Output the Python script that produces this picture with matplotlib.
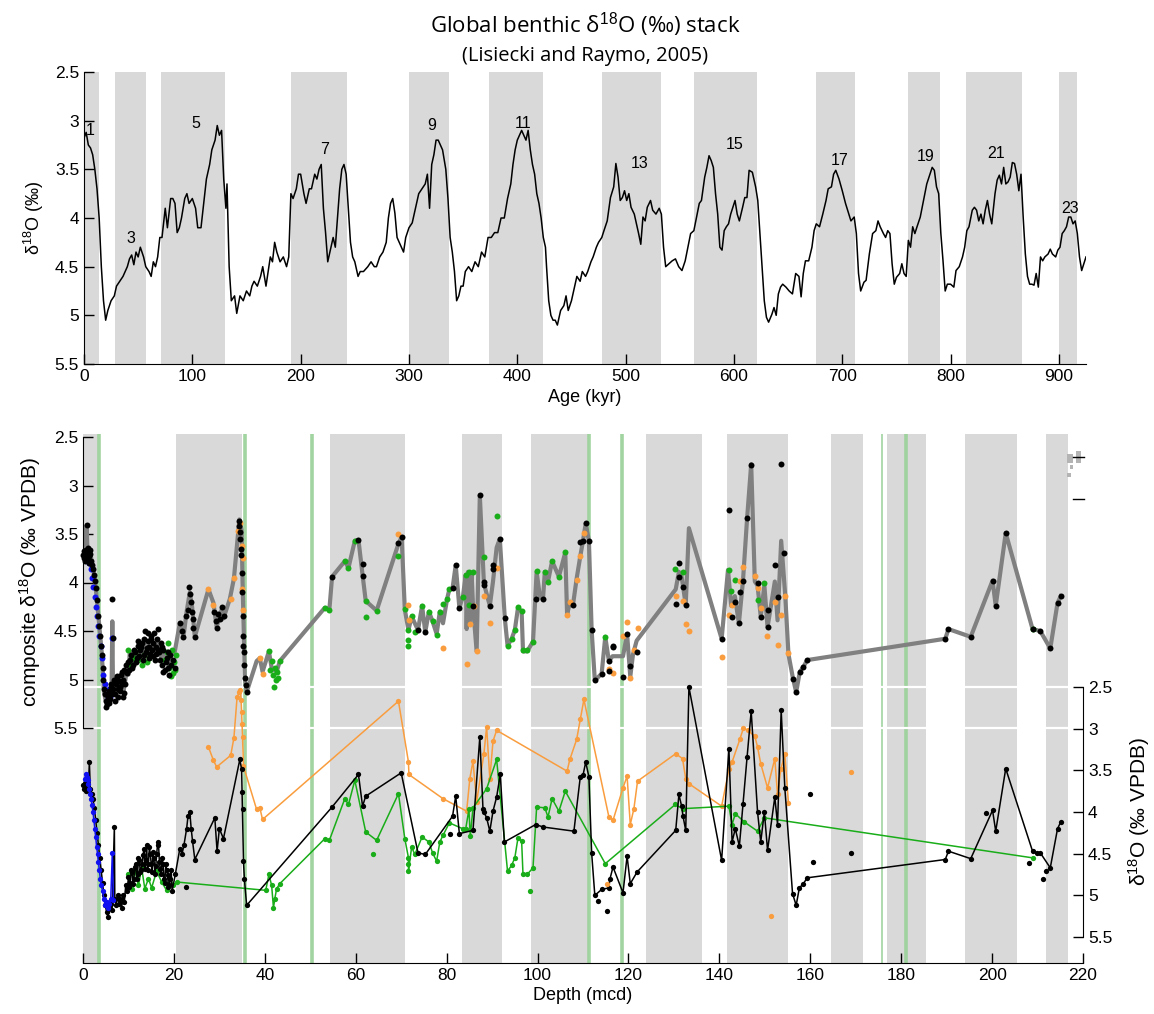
import matplotlib
matplotlib.use("Agg")
import matplotlib.pyplot as plt
from matplotlib.patches import Rectangle
from matplotlib.lines import Line2D

plt.rcParams['font.family'] = ['Liberation Sans', 'DejaVu Sans']
plt.rcParams['mathtext.fontset'] = 'custom'
plt.rcParams['mathtext.rm'] = 'Liberation Sans'
plt.rcParams['mathtext.it'] = 'Liberation Sans:italic'
plt.rcParams['mathtext.bf'] = 'Liberation Sans:bold'

# ---------------- top panel: LR04 stack ----------------
lr_age = [0, 2, 4, 6, 8, 10, 12, 14, 16, 18, 20, 22, 25, 28, 30, 33, 36, 38, 40, 42, 44, 46,
          48, 50, 52, 55, 57, 60, 62, 64, 66, 68, 70, 72, 74, 75, 77, 80, 82, 84, 86, 88, 90,
          93, 95, 97, 100, 103, 105, 108, 110, 113, 116, 118, 121, 123, 125, 127, 129, 131,
          132, 134, 136, 139, 141, 144, 147, 150, 153, 155, 157, 160, 163, 165, 168, 170, 172,
          174, 176, 178, 181, 184, 187, 189, 191, 193, 196, 198, 200, 203, 205, 208, 210, 213,
          215, 217, 219, 221, 223, 225, 228, 230, 232, 234, 236, 238, 240, 242, 244, 246, 248,
          250, 253, 255, 258, 262, 265, 268, 270, 273, 276, 279, 281, 283, 285, 287, 289, 291,
          293, 295, 297, 300, 303, 306, 309, 312, 315, 317, 319, 321, 323, 325, 327, 329, 331,
          334, 336, 338, 340, 342, 344, 346, 348, 350, 352, 355, 358, 361, 364, 367, 370, 373,
          376, 379, 382, 385, 388, 391, 394, 396, 398, 400, 402, 404, 406, 408, 410, 412, 414,
          416, 418, 420, 422, 424, 426, 427, 429, 431, 433, 435, 437, 440, 443, 445, 447, 450,
          453, 455, 458, 460, 463, 465, 468, 470, 473, 475, 478, 480, 483, 486, 489, 491, 493,
          495, 497, 499, 501, 503, 505, 508, 510, 512, 514, 516, 518, 520, 523, 525, 528, 531,
          533, 535, 537, 540, 543, 546, 549, 552, 555, 558, 560, 563, 566, 568, 570, 573, 575,
          577, 579, 581, 583, 585, 587, 589, 591, 593, 595, 597, 599, 601, 603, 605, 608, 610,
          612, 614, 617, 620, 622, 624, 626, 628, 630, 632, 635, 637, 639, 641, 643, 645, 648,
          651, 654, 657, 660, 662, 664, 666, 669, 672, 674, 676, 679, 682, 685, 687, 690, 692,
          694, 697, 700, 703, 706, 708, 711, 713, 715, 717, 720, 722, 725, 728, 731, 733, 735,
          738, 740, 742, 744, 746, 748, 750, 753, 755, 757, 759, 761, 763, 765, 767, 769, 772,
          775, 778, 781, 783, 785, 787, 789, 791, 793, 795, 797, 800, 803, 805, 808, 811, 813,
          815, 817, 820, 822, 824, 826, 828, 830, 832, 834, 836, 838, 841, 843, 845, 847, 849,
          851, 853, 855, 857, 859, 861, 863, 865, 867, 869, 871, 873, 875, 877, 879, 881, 883,
          885, 887, 890, 892, 894, 897, 899, 901, 903, 905, 907, 909, 911, 913, 915, 917, 919,
          921, 923, 925]
lr_d18o = [3.18, 3.12, 3.25, 3.28, 3.35, 3.5, 3.7, 4.0, 4.5, 4.85, 5.05, 4.95, 4.85, 4.8, 4.7,
           4.65, 4.6, 4.55, 4.5, 4.42, 4.38, 4.48, 4.35, 4.4, 4.3, 4.4, 4.5, 4.55, 4.6, 4.45,
           4.5, 4.4, 4.2, 4.2, 4.0, 3.9, 4.1, 3.8, 3.8, 3.85, 4.15, 4.1, 4.0, 3.8, 3.75, 3.85,
           3.8, 3.9, 4.1, 4.1, 3.9, 3.6, 3.45, 3.3, 3.2, 3.05, 3.15, 3.1, 3.6, 3.9, 3.65, 4.5,
           4.85, 4.8, 4.98, 4.8, 4.85, 4.75, 4.8, 4.7, 4.65, 4.7, 4.6, 4.5, 4.7, 4.55, 4.4,
           4.45, 4.25, 4.35, 4.45, 4.4, 4.5, 4.4, 3.75, 3.8, 3.7, 3.55, 3.55, 3.75, 3.85, 3.7,
           3.7, 3.55, 3.6, 3.5, 3.45, 3.9, 4.15, 4.45, 4.3, 4.2, 4.3, 4.0, 3.7, 3.5, 3.45, 3.55,
           3.9, 4.25, 4.4, 4.45, 4.6, 4.55, 4.55, 4.5, 4.45, 4.5, 4.5, 4.4, 4.35, 4.25, 4.0,
           3.85, 3.8, 3.95, 4.2, 4.25, 4.3, 4.35, 4.2, 4.1, 4.05, 3.9, 3.75, 3.7, 3.65, 3.55,
           3.9, 3.45, 3.35, 3.2, 3.2, 3.25, 3.3, 3.5, 3.8, 4.2, 4.35, 4.55, 4.85, 4.8, 4.7, 4.7,
           4.55, 4.5, 4.55, 4.45, 4.5, 4.35, 4.4, 4.2, 4.2, 4.15, 4.15, 4.0, 4.0, 3.8, 3.65,
           3.45, 3.3, 3.2, 3.15, 3.1, 3.15, 3.2, 3.1, 3.3, 3.45, 3.55, 3.75, 3.85, 4.0, 4.2, 4.3,
           4.5, 4.85, 5.0, 5.05, 5.05, 5.1, 4.95, 4.9, 4.8, 4.95, 4.85, 4.7, 4.6, 4.65, 4.55,
           4.6, 4.55, 4.45, 4.4, 4.3, 4.25, 4.2, 4.13, 4.03, 3.79, 3.68, 3.44, 3.58, 3.82, 3.79,
           3.72, 3.82, 3.75, 3.89, 3.96, 4.06, 4.16, 4.27, 3.99, 4.03, 3.89, 3.82, 3.92, 3.96,
           3.9, 3.96, 4.3, 4.5, 4.47, 4.44, 4.42, 4.5, 4.54, 4.44, 4.27, 4.16, 4.13, 3.96, 3.85,
           3.82, 3.58, 3.48, 3.36, 3.41, 3.48, 3.75, 3.96, 4.3, 4.33, 4.13, 4.09, 4.06, 3.96,
           3.89, 3.82, 3.96, 4.03, 3.89, 3.79, 3.79, 3.51, 3.53, 3.68, 3.82, 4.16, 4.5, 4.85,
           5.02, 5.07, 4.99, 4.92, 5.0, 4.78, 4.71, 4.68, 4.71, 4.75, 4.78, 4.57, 4.6, 4.81,
           4.57, 4.44, 4.44, 4.3, 4.13, 4.06, 4.09, 3.96, 3.82, 3.7, 3.68, 3.55, 3.51, 3.6,
           3.72, 3.85, 3.96, 4.03, 3.99, 4.16, 4.57, 4.75, 4.66, 4.64, 4.37, 4.16, 4.13, 4.03,
           4.09, 4.16, 4.2, 4.13, 4.16, 4.47, 4.68, 4.61, 4.57, 4.47, 4.57, 4.6, 4.23, 4.3,
           4.09, 4.16, 4.09, 3.99, 3.82, 3.65, 3.55, 3.48, 3.51, 3.68, 3.75, 4.16, 4.44, 4.75,
           4.68, 4.68, 4.71, 4.54, 4.5, 4.4, 4.3, 4.13, 4.09, 3.92, 3.89, 3.92, 4.03, 3.96,
           4.06, 3.92, 3.82, 3.96, 4.06, 3.75, 3.61, 3.56, 3.65, 3.48, 3.65, 3.63, 3.58, 3.43,
           3.44, 3.55, 3.72, 3.55, 3.99, 4.37, 4.6, 4.68, 4.68, 4.69, 4.57, 4.71, 4.4, 4.44,
           4.4, 4.37, 4.32, 4.37, 4.4, 4.33, 4.3, 4.16, 4.13, 4.09, 3.99, 3.99, 4.06, 4.03,
           4.16, 4.4, 4.54, 4.47, 4.4]

mis_bands = [(0, 14), (29, 57), (71, 130), (191, 243), (300, 337), (374, 424), (478, 533),
             (563, 621), (676, 712), (761, 790), (814, 866), (900, 917)]
mis_names = ['1', '3', '5', '7', '9', '11', '13', '15', '17', '19', '21', '23']
mis_age = [6, 43, 103, 222, 321, 405, 513, 601, 698, 777, 842, 910]
mis_val = [3.1, 4.21, 3.03, 3.3, 3.05, 3.03, 3.44, 3.24, 3.41, 3.37, 3.34, 3.9]

# ---------------- bottom panel ----------------
depth_bands = [(0, 3.3), (20.5, 35.0), (54.3, 70.8), (83.4, 92.2), (98.6, 111.3),
               (123.9, 136.2), (141.7, 155.1), (164.6, 171.6), (176.9, 185.4),
               (194.1, 205.5), (211.9, 216.7)]
green_lines = [3.6, 35.6, 50.4, 111.3, 118.6, 175.8, 181.1]

# composite record (grey line, left axis)
comp_depth = [0.1, 0.4, 0.8, 1.0, 1.5, 2.0, 2.6, 3.0, 3.4, 3.8, 4.1, 4.4, 4.6, 5.0, 5.4, 5.9,
              6.3, 6.45, 6.6, 7.0, 7.4, 7.8, 8.3, 8.9, 9.6, 10.0, 10.3, 10.7, 11.1, 11.5, 12.0,
              12.5, 13.0, 13.5, 14.0, 14.5, 15.0, 15.5, 16.0, 16.5, 16.9, 17.4, 17.9, 18.4,
              18.9, 19.4, 20.2, 21.3, 22.1, 22.8, 23.5, 24.0, 24.6, 27.6, 28.7, 29.4, 30.5,
              30.9, 32.3, 33.2, 34.4, 34.9, 35.1, 35.4, 35.6, 36.0, 38.2, 38.9, 39.5, 40.9,
              41.5, 42.6, 43.3, 53.2, 54.2, 54.8, 57.6, 58.4, 59.8, 60.6, 61.5, 62.2, 64.6,
              69.4, 70.1, 70.8, 71.6, 72.3, 73.7, 74.6, 75.3, 76.1, 76.9, 77.8, 78.5, 79.2,
              80.1, 80.6, 81.3, 82.0, 82.8, 83.6, 84.2, 84.4, 84.7, 85.0, 85.5, 85.8, 86.6,
              87.3, 88.2, 89.5, 90.2, 91.0, 91.7, 92.8, 93.4, 94.3, 95.0, 95.7, 96.5, 96.8,
              97.7, 99.0, 99.8, 100.5, 101.2, 101.6, 102.3, 103.2, 104.7, 106.1, 106.5, 107.1,
              107.8, 108.6, 109.4, 110.0, 110.6, 111.3, 111.9, 112.6, 114.1, 114.9, 115.7,
              116.5, 118.8, 119.7, 120.4, 121.0, 121.8, 130.4, 131.1, 131.7, 132.6, 133.3,
              140.5, 141.9, 142.6, 143.4, 144.3, 145.2, 146.1, 147.0, 147.8, 148.4, 149.1,
              149.9, 150.6, 152.2, 152.8, 153.6, 154.5, 155.2, 156.2, 156.9, 157.7, 158.5,
              159.3, 189.7, 190.4, 195.3, 200.1, 200.8, 203.0, 208.9, 210.6, 212.8, 214.4,
              215.1]
comp_d18o = [3.72, 3.68, 3.41, 3.70, 3.67, 3.80, 3.96, 4.15, 4.35, 4.55, 4.71, 4.95, 5.13,
             5.22, 5.18, 5.13, 5.05, 4.40, 5.10, 5.05, 5.12, 4.99, 5.08, 5.13, 4.92, 4.95,
             4.71, 4.80, 4.85, 4.75, 4.78, 4.67, 4.72, 4.62, 4.74, 4.65, 4.72, 4.64, 4.70,
             4.62, 4.74, 4.80, 4.72, 4.78, 4.85, 4.75, 4.71, 4.42, 4.56, 4.30, 4.10, 4.25,
             4.56, 4.07, 4.21, 4.46, 4.28, 4.37, 4.17, 3.96, 3.35, 3.46, 3.99, 4.56, 4.99,
             5.13, 4.81, 4.78, 4.92, 4.71, 4.88, 4.92, 4.81, 4.26, 4.28, 3.94, 3.78, 3.85,
             3.57, 3.56, 3.92, 4.19, 4.29, 3.60, 3.53, 4.28, 4.49, 4.35, 4.49, 4.24, 4.51,
             4.30, 4.40, 4.53, 4.30, 4.42, 4.17, 4.07, 4.06, 3.82, 4.26, 4.14, 3.92, 4.48,
             3.89, 4.42, 3.92, 4.24, 4.71, 3.10, 4.01, 4.24, 3.99, 3.64, 3.55, 4.37, 4.65,
             4.58, 4.49, 4.26, 4.30, 4.71, 4.71, 4.61, 3.89, 4.14, 4.17, 3.89, 3.99, 3.78,
             3.94, 3.69, 4.33, 4.21, 4.23, 3.96, 3.73, 3.57, 3.39, 3.57, 4.49, 5.01, 4.94,
             4.56, 4.81, 4.76, 4.76, 4.53, 4.97, 4.74, 4.60, 4.07, 3.89, 3.94, 4.23, 3.44,
             4.58, 3.87, 4.24, 4.14, 4.42, 3.98, 3.34, 2.78, 3.99, 4.03, 4.35, 4.03, 4.46,
             3.99, 4.39, 3.57, 4.14, 4.74, 4.99, 5.13, 4.92, 4.87, 4.80, 4.58, 4.48, 4.56,
             3.98, 4.24, 3.49, 4.48, 4.50, 4.68, 4.21, 4.14]

# dots on the composite (left axis), by source
up_blk_depth = [0.1, 0.2, 0.3, 0.4, 0.5, 0.6, 0.7, 0.8, 0.9, 1.0, 1.1, 1.2, 1.3, 1.4, 1.5, 1.6,
                1.8, 2.0, 2.2, 2.4, 2.6, 2.8, 3.0, 3.3, 3.5, 3.7, 3.9, 4.1, 4.3, 4.5, 4.7,
                4.9, 5.1, 5.3, 5.5, 5.7, 5.9, 6.1, 6.3, 6.45, 6.5, 6.7, 6.9, 7.1, 7.3, 7.5,
                7.7, 7.9, 8.1, 8.3, 8.5, 8.7, 8.9, 9.1, 9.3, 9.5, 9.7, 9.9, 10.2, 10.6, 11.0,
                11.4, 11.8, 12.2, 12.6, 13.0, 13.4, 13.7, 14.0, 14.3, 14.6, 14.9, 15.2, 15.5,
                15.8, 16.1, 16.5, 16.8, 17.1, 17.4, 17.7, 18.0, 18.4, 18.8, 19.2, 21.3, 21.8,
                22.1, 22.6, 23.0, 23.3, 23.5, 23.7, 23.9, 24.1, 24.3, 24.6, 28.9, 29.2, 29.5,
                29.8, 30.2, 30.6, 31.0, 34.3, 34.4, 34.5, 34.6, 34.7, 34.8, 34.9, 35.0, 35.1,
                35.2, 35.3, 35.4, 35.5, 35.6, 35.8, 36.0, 54.8, 60.6, 61.5, 61.5, 69.4, 70.1,
                73.7, 75.3, 81.3, 82.0, 82.8, 85.8, 87.3, 88.2, 88.2, 89.5, 90.2, 90.2, 91.7,
                92.8, 99.6, 101.2, 107.8, 109.4, 110.0, 110.6, 111.3, 111.9, 112.6, 114.1,
                115.7, 115.7, 116.6, 116.6, 118.8, 119.7, 120.4, 121.9, 130.4, 131.1, 131.1,
                131.9, 132.6, 140.5, 142.1, 142.8, 143.5, 144.3, 144.5, 145.2, 146.1, 147.0,
                148.4, 149.1, 150.6, 150.6, 152.2, 152.8, 153.6, 154.3, 156.2, 156.9, 157.7,
                158.5, 159.3, 189.7, 190.4, 195.3, 200.1, 200.8, 203.0, 208.9, 210.6, 212.8,
                214.4, 215.1,
                10.4, 10.8, 11.2, 11.6, 12.0, 12.4, 12.8, 13.2, 13.5, 13.9, 14.2, 14.5, 14.8,
                15.0, 15.4, 15.7, 16.0, 16.3, 16.6, 17.0, 17.3, 17.6, 18.2, 18.6, 19.0, 19.4,
                19.8, 20.2, 5.0, 5.4, 5.8, 6.2, 7.0, 7.4, 7.8, 8.2, 8.6, 9.0]
up_blk_d18o = [3.72, 3.68, 3.75, 3.70, 3.78, 3.66, 3.72, 3.41, 3.70, 3.64, 3.76, 3.69, 3.73,
               3.80, 3.67, 3.71, 3.78, 3.82, 3.86, 3.92, 3.98, 4.06, 4.18, 4.35, 4.45, 4.55,
               4.65, 4.75, 4.88, 5.00, 5.10, 5.15, 5.22, 5.25, 5.18, 5.12, 5.20, 5.08, 5.15,
               4.17, 4.57, 5.10, 5.00, 5.15, 5.05, 4.98, 5.10, 5.02, 5.12, 4.95, 5.05, 5.18,
               5.00, 4.90, 5.05, 4.85, 4.93, 4.82, 4.90, 4.75, 4.85, 4.72, 4.78, 4.65, 4.70,
               4.62, 4.75, 4.50, 4.68, 4.60, 4.78, 4.55, 4.70, 4.62, 4.80, 4.66, 4.48, 4.72,
               4.62, 4.85, 4.70, 4.90, 4.78, 4.88, 4.75, 4.42, 4.50, 4.56, 4.35, 4.28, 4.05,
               4.12, 4.20, 4.30, 4.38, 4.47, 4.56, 4.30, 4.40, 4.47, 4.32, 4.38, 4.25, 4.35,
               3.37, 3.42, 3.48, 3.55, 3.65, 3.72, 3.90, 4.10, 4.35, 4.55, 4.65, 4.72, 4.85,
               4.98, 5.06, 5.13, 3.94, 3.56, 3.81, 3.93, 3.59, 3.53, 4.49, 4.51, 4.06, 3.82,
               4.26, 4.24, 3.10, 3.99, 4.03, 4.24, 3.82, 3.86, 3.55, 4.37, 4.17, 4.17, 4.23,
               3.58, 3.57, 3.39, 3.57, 4.49, 5.01, 4.94, 4.81, 4.91, 4.65, 4.66, 4.97, 4.53,
               4.86, 4.72, 4.22, 3.80, 3.94, 4.05, 4.23, 4.58, 3.25, 4.36, 4.20, 4.42, 4.10,
               3.98, 3.34, 2.79, 4.00, 4.36, 4.28, 4.46, 3.82, 4.15, 2.78, 3.70, 4.99, 5.13,
               4.92, 4.87, 4.80, 4.58, 4.48, 4.56, 3.98, 4.24, 3.49, 4.48, 4.50, 4.68, 4.21,
               4.14,
               4.80, 4.88, 4.70, 4.82, 4.60, 4.76, 4.66, 4.80, 4.58, 4.72, 4.52, 4.66, 4.74,
               4.58, 4.76, 4.52, 4.74, 4.58, 4.70, 4.80, 4.66, 4.92, 4.82, 4.72, 4.95, 4.85,
               4.80, 4.88, 5.28, 5.15, 5.24, 5.05, 5.22, 4.96, 5.18, 5.08, 4.92, 5.14]
up_org_depth = [27.6, 28.7, 32.5, 33.2, 34.0, 34.5, 35.0, 35.1, 35.0, 35.3, 38.9, 39.5, 69.4,
                71.6, 71.7, 79.2, 84.4, 85.1, 86.0, 86.7, 88.2, 89.5, 91.0, 106.4, 107.1,
                108.6, 109.4, 110.2, 115.7, 116.6, 118.8, 119.7, 120.4, 121.2, 122.0, 130.4,
                131.9, 132.6, 133.3, 140.5, 142.1, 142.8, 144.5, 145.2, 147.8, 148.4, 149.1,
                150.5, 152.2, 152.8, 153.5, 154.4, 155.2]
up_org_d18o = [4.07, 4.23, 4.17, 3.95, 3.47, 3.39, 3.62, 3.75, 4.07, 4.28, 4.78, 4.94, 3.50,
               4.23, 4.39, 4.68, 4.84, 4.43, 4.24, 4.71, 4.14, 4.42, 3.85, 4.34, 4.20, 3.97,
               3.73, 3.49, 4.89, 4.93, 4.55, 4.41, 4.98, 4.70, 4.47, 4.14, 4.19, 4.43, 4.50,
               4.77, 4.33, 4.23, 3.98, 3.84, 3.93, 4.06, 4.26, 4.55, 4.20, 4.64, 4.34, 4.14,
               4.73]
up_grn_depth = [10.0, 10.5, 11.0, 11.5, 12.0, 12.5, 13.0, 13.5, 14.0, 14.5, 18.0, 18.5, 19.0,
                19.5, 19.7, 20.0, 20.2, 20.5, 40.9, 41.5, 41.8, 42.0, 42.2, 42.4, 42.6, 43.3,
                53.2, 54.2, 57.6, 58.4, 59.8, 62.2, 62.2, 64.6, 69.4, 70.8, 71.6, 71.6, 71.6,
                72.3, 73.0, 74.6, 76.1, 76.9, 77.8, 78.5, 79.2, 80.1, 80.6, 83.5, 84.2, 84.9,
                85.0, 85.8, 88.2, 91.0, 93.4, 94.3, 95.0, 95.7, 96.5, 96.8, 97.7, 99.0, 99.8,
                101.6, 102.3, 103.2, 104.7, 106.1, 114.9, 130.3, 131.9, 142.1, 142.6, 143.5,
                148.4, 149.9, 208.9, 18.8, 19.3, 41.2, 42.8]
up_grn_d18o = [4.70, 4.85, 4.78, 4.72, 4.80, 4.68, 4.85, 4.75, 4.82, 4.78, 4.80, 4.72, 4.88,
               4.70, 4.93, 4.82, 4.90, 4.75, 4.71, 4.81, 4.95, 5.08, 4.88, 5.00, 4.92, 4.81,
               4.26, 4.28, 3.78, 3.85, 3.57, 4.19, 4.36, 4.29, 3.73, 4.27, 4.49, 4.59, 4.65,
               4.35, 4.51, 4.24, 4.30, 4.40, 4.54, 4.30, 4.22, 4.17, 4.07, 4.15, 3.92, 3.89,
               4.23, 3.89, 3.74, 3.31, 4.65, 4.58, 4.49, 4.25, 4.29, 4.70, 4.70, 4.61, 3.88,
               3.89, 3.99, 3.78, 3.94, 3.69, 4.56, 3.86, 3.89, 3.87, 4.09, 3.97, 4.18, 4.01,
               4.48, 4.62, 4.96, 4.90, 4.98]
up_blu_depth = [1.4, 1.7, 2.0, 2.3, 2.6, 2.9, 3.1, 3.4, 3.6, 3.9, 4.2, 4.5, 4.8, 5.1, 5.4,
                5.7, 6.0, 6.45]
up_blu_d18o = [3.80, 3.86, 3.95, 4.05, 4.15, 4.25, 4.35, 4.45, 4.55, 4.65, 4.78, 4.95, 5.05,
               5.15, 5.20, 5.10, 5.18, 4.57]

# individual records (right axis)
lo_blk_depth = [0.1, 0.3, 0.5, 0.7, 0.9, 1.2, 1.4, 1.6, 1.9, 2.2, 2.5, 2.8, 3.1, 3.4, 3.7,
                4.0, 4.3, 4.6, 4.9, 5.2, 5.5, 5.8, 6.1, 6.4, 6.9, 7.0, 7.3, 7.6, 7.9, 8.2,
                8.5, 8.8, 9.1, 9.4, 9.7, 10.0, 10.4, 10.8, 11.2, 11.6, 12.0, 12.4, 12.8, 13.2,
                13.6, 14.0, 14.4, 14.8, 15.2, 15.6, 16.0, 16.4, 16.8, 17.2, 17.6, 18.0, 18.4,
                18.8, 19.2, 19.6, 20.3, 21.3, 21.8, 22.2, 22.8, 23.1, 23.5, 23.8, 24.1, 24.6,
                29.0, 29.5, 30.0, 30.9, 34.5, 34.9, 35.0, 35.1, 35.3, 35.5, 36.0, 54.8, 60.6,
                61.5, 62.2, 70.0, 73.7, 75.3, 81.3, 82.0, 82.8, 85.8, 87.3, 88.0, 88.2, 88.8,
                89.5, 90.2, 91.0, 91.8, 92.7, 99.6, 101.2, 108.0, 109.4, 110.0, 110.6, 111.3,
                111.9, 112.6, 114.1, 115.7, 115.9, 116.6, 118.8, 119.7, 120.4, 121.9, 130.4,
                131.1, 131.7, 132.0, 132.6, 133.3, 140.5, 142.1, 142.8, 143.5, 144.4, 145.2,
                146.1, 147.0, 148.4, 149.1, 149.9, 150.6, 152.2, 152.8, 153.6, 154.4, 156.1,
                156.9, 157.6, 158.5, 159.3, 189.7, 190.4, 195.3, 200.1, 200.8, 203.0, 208.9,
                209.9, 210.6, 212.8, 214.4, 215.1,
                10.2, 10.6, 11.0, 11.4, 11.8, 12.2, 12.6, 13.0, 13.4, 13.8, 14.2, 14.6, 15.0,
                15.4, 15.8, 16.2, 16.6, 17.0, 17.4, 17.8, 18.2, 18.6, 19.0, 19.4]
lo_blk_d18o = [3.68, 3.72, 3.65, 3.75, 3.62, 3.70, 3.40, 3.72, 3.78, 3.85, 3.95, 4.10, 4.25,
               4.40, 4.55, 4.70, 4.85, 5.00, 5.12, 5.20, 5.26, 5.15, 5.10, 5.18, 4.18, 5.05,
               5.12, 5.00, 5.10, 5.05, 5.15, 5.00, 5.08, 4.88, 4.95, 4.78, 4.85, 4.72, 4.80,
               4.62, 4.75, 4.58, 4.70, 4.52, 4.68, 4.40, 4.62, 4.50, 4.72, 4.55, 4.65, 4.40,
               4.60, 4.75, 4.62, 4.85, 4.70, 4.90, 4.80, 4.95, 4.75, 4.44, 4.50, 4.40, 4.20,
               4.05, 4.00, 4.20, 4.35, 4.57, 4.07, 4.47, 4.20, 4.32, 3.37, 3.49, 3.76, 3.97,
               4.59, 4.80, 5.12, 3.94, 3.55, 3.93, 3.81, 3.53, 4.49, 4.51, 4.05, 3.81, 4.26,
               4.22, 3.10, 3.97, 4.00, 4.07, 4.23, 3.99, 3.82, 3.55, 4.36, 4.15, 4.18, 4.23,
               3.58, 3.56, 3.40, 3.58, 4.49, 5.00, 4.93, 4.91, 4.81, 4.66, 4.97, 4.53, 4.86,
               4.72, 4.22, 3.79, 3.93, 4.05, 4.22, 2.50, 4.58, 3.24, 4.36, 4.20, 4.41, 3.90,
               3.34, 2.79, 4.00, 4.36, 4.00, 4.46, 3.82, 4.15, 2.78, 3.71, 4.98, 5.12, 4.91,
               4.86, 4.79, 4.57, 4.47, 4.56, 3.98, 4.23, 3.48, 4.47, 4.49, 4.49, 4.67, 4.20,
               4.12,
               4.90, 4.70, 4.86, 4.66, 4.80, 4.55, 4.72, 4.62, 4.45, 4.58, 4.70, 4.42, 4.62,
               4.48, 4.74, 4.50, 4.36, 4.68, 4.55, 4.80, 4.62, 4.76, 4.88, 4.70]
lo_blk_pt_depth = [22.6, 80.7, 113.3, 115.2, 159.9, 160.7, 168.9, 198.6, 208.1, 211.2, 211.9]
lo_blk_pt_d18o = [4.90, 4.27, 5.07, 5.19, 3.78, 4.60, 4.49, 4.01, 4.61, 4.81, 4.71]

lo_org_depth = [27.6, 28.7, 29.4, 32.5, 33.2, 33.9, 34.4, 34.6, 34.8, 34.9, 35.0, 35.1, 35.3,
                38.2, 38.9, 39.5, 69.4, 71.6, 71.7, 79.2, 84.4, 85.1, 85.8, 86.6, 88.2, 88.8,
                89.5, 90.2, 91.0, 106.5, 107.1, 108.6, 109.4, 110.2, 115.7, 116.6, 118.8,
                119.7, 120.4, 121.2, 122.0, 130.4, 131.9, 132.6, 133.3, 140.5, 142.1, 142.8,
                144.5, 145.3, 146.2, 147.8, 148.4, 149.1, 150.6, 152.2, 152.8, 153.5, 154.4,
                155.2]
lo_org_d18o = [3.22, 3.38, 3.46, 3.32, 3.11, 2.62, 2.56, 2.54, 2.66, 2.80, 2.95, 3.10, 3.45,
               3.97, 3.95, 4.09, 2.67, 3.40, 3.55, 3.84, 3.99, 3.60, 3.39, 3.88, 3.30, 2.98,
               3.60, 3.15, 3.02, 3.51, 3.37, 3.13, 2.89, 2.65, 4.06, 4.10, 3.71, 3.57, 4.15,
               3.96, 3.63, 3.30, 3.36, 3.60, 3.66, 3.93, 3.49, 3.40, 3.13, 2.99, 3.02, 3.09,
               3.22, 3.42, 3.71, 3.36, 3.79, 3.49, 3.31, 3.89]
lo_org_pt_depth = [115.2, 151.3, 168.9]
lo_org_pt_d18o = [4.86, 5.25, 3.52]

lo_grn_depth = [10.0, 10.7, 11.4, 12.2, 12.9, 13.6, 14.4, 15.1, 16.2, 17.3, 18.4, 19.1, 19.9,
                20.6, 40.2, 40.9, 41.5, 41.9, 42.2, 42.6, 43.3, 53.2, 54.2, 57.6, 58.4, 59.8,
                62.2, 64.6, 69.4, 70.8, 71.6, 71.6, 71.6, 72.3, 73.0, 74.6, 76.1, 76.9, 77.8,
                78.5, 79.2, 80.6, 83.5, 84.2, 84.9, 85.2, 85.8, 88.8, 91.0, 93.4, 94.3, 95.0,
                95.7, 96.5, 96.8, 97.7, 99.0, 99.8, 101.6, 102.3, 103.2, 104.7, 106.1, 114.9,
                130.3, 131.9, 142.1, 142.8, 143.5, 145.5, 148.4, 149.9, 208.9]
lo_grn_d18o = [4.75, 4.92, 4.69, 4.88, 4.67, 4.92, 4.80, 4.91, 4.71, 4.84, 4.94, 4.80, 4.88,
               4.84, 4.94, 4.75, 4.88, 5.15, 5.04, 4.92, 4.86, 4.32, 4.34, 3.84, 3.91, 3.62,
               4.24, 4.34, 3.78, 4.32, 4.55, 4.63, 4.71, 4.42, 4.51, 4.30, 4.36, 4.49, 4.59,
               4.36, 4.28, 4.13, 4.20, 4.20, 3.97, 4.29, 3.95, 3.72, 3.37, 4.71, 4.64, 4.55,
               4.31, 4.35, 4.75, 4.75, 4.67, 3.94, 3.95, 4.06, 3.84, 3.99, 3.75, 4.62, 3.91,
               3.96, 3.93, 4.15, 4.02, 4.12, 4.23, 4.07, 4.55]
lo_grn_pt_depth = [63.7, 98.3]
lo_grn_pt_d18o = [4.51, 4.95]

lo_blu_depth = [0.4, 0.6, 0.8, 1.0, 1.2, 1.4, 1.6, 1.8, 2.0, 2.2, 2.4, 2.6, 2.8, 3.0, 3.2,
                3.4, 3.6, 3.8, 4.0, 4.3, 4.6, 4.9, 5.2, 5.5, 5.8, 6.1, 6.45, 6.7]
lo_blu_d18o = [3.60, 3.55, 3.58, 3.62, 3.66, 3.72, 3.78, 3.85, 3.92, 4.00, 4.10, 4.20, 4.30,
               4.42, 4.50, 4.60, 4.70, 4.80, 4.88, 4.95, 5.05, 5.12, 5.08, 5.15, 5.10, 5.05,
               4.49, 5.06]

yticks = [2.5, 3, 3.5, 4, 4.5, 5, 5.5]
ytick_labels = ['2.5', '3', '3.5', '4', '4.5', '5', '5.5']

BAND = '#d9d9d9'
ORANGE = '#f99d3e'
GREEN = '#19ad19'
BLUE = '#1010f0'
W, H = 1154, 1014


def px_rect(left, top, right, bottom):
    return [left / W, 1 - bottom / H, (right - left) / W, (bottom - top) / H]


def clean(ax, keep):
    for side in ['top', 'bottom', 'left', 'right']:
        ax.spines[side].set_visible(side in keep)
    ax.tick_params(direction='in', length=7, width=1, labelsize=12.5)


def by_depth(depth, vals):
    pairs = sorted(zip(depth, vals), key=lambda p: p[0])
    return [p[0] for p in pairs], [p[1] for p in pairs]


fig = plt.figure(figsize=(W / 100, H / 100), dpi=100)

# ---- top panel
ax1 = fig.add_axes(px_rect(84, 72, 1086, 364))
for a, b in mis_bands:
    ax1.axvspan(a, b, color=BAND, lw=0)
ax1.plot(lr_age, lr_d18o, color='black', lw=1.1)
for name, x, y in zip(mis_names, mis_age, mis_val):
    ax1.text(x, y, name, ha='center', va='center', fontsize=11.5)
ax1.set_xlim(0, 925)
ax1.set_ylim(5.5, 2.5)
ax1.set_xticks(range(0, 901, 100))
ax1.set_yticks(yticks)
ax1.set_yticklabels(ytick_labels)
clean(ax1, ['left', 'bottom'])
ax1.set_xlabel('Age (kyr)', fontsize=13, labelpad=4)
ax1.set_ylabel('δ$^{18}$O (‰)', fontsize=13, labelpad=6)
fig.text(0.507, 1 - 25 / H, 'Global benthic δ$^{18}$O (‰) stack', ha='center', va='center',
         fontsize=16, family=['Open Sans', 'DejaVu Sans'])
fig.text(0.507, 1 - 56 / H, '(Lisiecki and Raymo, 2005)', ha='center', va='center',
         fontsize=14.5, family=['Open Sans', 'DejaVu Sans'])

# ---- bottom panel: shared background
axb = fig.add_axes(px_rect(83, 434, 1083, 963))
for a, b in depth_bands:
    axb.axvspan(a, b, color=BAND, lw=0)
for d in green_lines:
    axb.axvline(d, color='#9cd29c', lw=1.2 if d == 175.8 else 2.6, alpha=0.95)
axb.axhline((963 - 687) / 529, color='white', lw=1.6)
axb.axhline((963 - 728) / 529, color='white', lw=1.6)
axb.set_xlim(0, 220)
axb.set_ylim(0, 1)
axb.set_xticks(range(0, 221, 20))
axb.set_yticks([])
clean(axb, ['bottom'])
axb.set_xlabel('Depth (mcd)', fontsize=13, labelpad=3)

# ---- composite (left axis)
ax2 = fig.add_axes(px_rect(83, 437, 1083, 728), sharex=axb)
ax2.patch.set_visible(False)
ax2.plot(comp_depth, comp_d18o, color='#808080', lw=3, clip_on=False, zorder=2)
ms = 4.3
ax2.plot(up_blu_depth, up_blu_d18o, 'o', color=BLUE, ms=ms, mec='none', clip_on=False, zorder=3)
ax2.plot(up_grn_depth, up_grn_d18o, 'o', color=GREEN, ms=ms, mec='none', clip_on=False, zorder=3)
ax2.plot(up_org_depth, up_org_d18o, 'o', color=ORANGE, ms=ms, mec='none', clip_on=False, zorder=3)
ax2.plot(up_blk_depth, up_blk_d18o, 'o', color='black', ms=ms, mec='none', clip_on=False, zorder=4)
ax2.set_ylim(5.5, 2.5)
ax2.set_yticks(yticks)
ax2.set_yticklabels(ytick_labels)
clean(ax2, ['left'])
ax2.tick_params(axis='x', bottom=False, labelbottom=False)
ax2.set_ylabel('composite δ$^{18}$O (‰ VPDB)', fontsize=15, labelpad=8)

# ---- individual records (right axis)
ax3 = fig.add_axes(px_rect(83, 687, 1083, 937), sharex=axb)
ax3.patch.set_visible(False)
kw = dict(marker='o', ms=3.8, mec='none', lw=1.1, clip_on=False)
ax3.plot(lo_org_depth, lo_org_d18o, color=ORANGE, **kw)
ax3.plot(lo_grn_depth, lo_grn_d18o, color=GREEN, **kw)
ax3.plot(*by_depth(lo_blk_depth, lo_blk_d18o), color='black', **kw)
ax3.plot(lo_blu_depth, lo_blu_d18o, color=BLUE, **kw)
ax3.plot(lo_org_pt_depth, lo_org_pt_d18o, 'o', color=ORANGE, ms=3.8, mec='none', clip_on=False)
ax3.plot(lo_grn_pt_depth, lo_grn_pt_d18o, 'o', color=GREEN, ms=3.8, mec='none', clip_on=False)
ax3.plot(lo_blk_pt_depth, lo_blk_pt_d18o, 'o', color='black', ms=3.8, mec='none', clip_on=False)
ax3.set_ylim(5.5, 2.5)
ax3.yaxis.tick_right()
ax3.yaxis.set_label_position('right')
ax3.set_yticks(yticks)
ax3.set_yticklabels(ytick_labels)
clean(ax3, ['right'])
ax3.tick_params(axis='x', bottom=False, labelbottom=False)
ax3.set_ylabel('δ$^{18}$O (‰ VPDB)', fontsize=15, labelpad=10)

# leftover marks at the upper right corner
for x, y, w, h in [(1067, 454, 6, 9), (1076, 451, 5, 12), (1070, 465, 3, 4), (1067, 473, 4, 4)]:
    fig.add_artist(Rectangle((x / W, 1 - (y + h) / H), w / W, h / H,
                             transform=fig.transFigure, color='#b4b4b4', lw=0))
for y in [457, 499]:
    fig.add_artist(Line2D([1073 / W, 1084 / W], [1 - y / H, 1 - y / H],
                          transform=fig.transFigure, color='black', lw=1))

fig.savefig('out.png', dpi=100)
